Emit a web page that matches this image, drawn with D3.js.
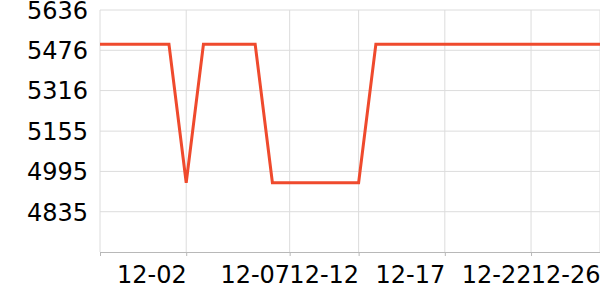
<!DOCTYPE html>
<html>
<head>
<meta charset="utf-8">
<script src="https://cdn.jsdelivr.net/npm/d3@7"></script>
<style>
  body { margin: 0; background: #fff; }
  text { font-family: "DejaVu Sans", sans-serif; }
</style>
</head>
<body>
<svg id="chart"></svg>
<script>
(function() {

const margin = { top: 10, right: 0, bottom: 48, left: 100 };
const width = 600 - margin.left - margin.right;
const height = 300 - margin.top - margin.bottom;

// one value per day, 30 points
const values = [5500, 5500, 5500, 5500, 5500, 4950, 5500, 5500, 5500, 5500,
                4950, 4950, 4950, 4950, 4950, 4950, 5500, 5500, 5500, 5500,
                5500, 5500, 5500, 5500, 5500, 5500, 5500, 5500, 5500, 5500];

// x ticks: point index and label
const xTickIdx = [5, 11, 15, 20, 25, 29];
const xTickLabels = ["12-02", "12-07", "12-12", "12-17", "12-22", "12-26"];

const yTicks = [4835, 4995, 5155, 5316, 5476, 5636];
const yDomain = [4675, 5636];

const svg = d3.select("#chart")
    .attr("width", width + margin.left + margin.right)
    .attr("height", height + margin.top + margin.bottom)
  .append("g")
    .attr("transform", `translate(${margin.left},${margin.top})`);

const xScale = d3.scaleLinear()
  .domain([0, values.length - 1])
  .range([0, width]);

const yScale = d3.scaleLinear()
  .domain(yDomain)
  .range([height, 0]);

// horizontal grid
svg.selectAll(".hgrid")
    .data(yTicks)
    .enter().append("line")
    .attr("class", "hgrid")
    .attr("x1", 0)
    .attr("x2", width)
    .attr("y1", d => yScale(d))
    .attr("y2", d => yScale(d))
    .attr("stroke", "#dcdcdc")
    .attr("stroke-width", 1);

// vertical grid
svg.selectAll(".vgrid")
    .data(xTickIdx)
    .enter().append("line")
    .attr("class", "vgrid")
    .attr("x1", d => xScale(d))
    .attr("x2", d => xScale(d))
    .attr("y1", 0)
    .attr("y2", height)
    .attr("stroke", "#dcdcdc")
    .attr("stroke-width", 1);

// left edge line
svg.append("line")
    .attr("x1", 0).attr("x2", 0)
    .attr("y1", 0).attr("y2", height)
    .attr("stroke", "#dcdcdc");

// y labels
svg.selectAll(".ylabel")
    .data(yTicks)
    .enter().append("text")
    .attr("class", "ylabel")
    .attr("x", -12)
    .attr("y", d => yScale(d))
    .attr("dy", "0.37em")
    .attr("text-anchor", "end")
    .style("font-size", "24px")
    .attr("fill", "#000")
    .text(d => d);

// x axis
const xAxis = d3.axisBottom(xScale)
    .tickValues([0].concat(xTickIdx))
    .tickFormat((d, i) => i === 0 ? "" : xTickLabels[i - 1])
    .tickSize(4)
    .tickSizeOuter(0);

const gx = svg.append("g")
    .attr("transform", `translate(0,${height})`)
    .call(xAxis);

gx.select(".domain").attr("stroke", "#b8b8b8");
gx.selectAll(".tick line").attr("stroke", "#b8b8b8");
gx.selectAll(".tick text")
    .attr("text-anchor", "end")
    .attr("y", 31)
    .attr("dy", 0)
    .attr("fill", "#000")
    .style("font-size", "24px")
    .style("font-family", "DejaVu Sans, sans-serif");

// line
const line = d3.line()
    .x((d, i) => xScale(i))
    .y(d => yScale(d));

svg.append("path")
    .datum(values)
    .attr("fill", "none")
    .attr("stroke", "#ef4a2d")
    .attr("stroke-width", 3)
    .attr("stroke-linejoin", "miter")
    .attr("d", line);

})();
</script>
</body>
</html>
